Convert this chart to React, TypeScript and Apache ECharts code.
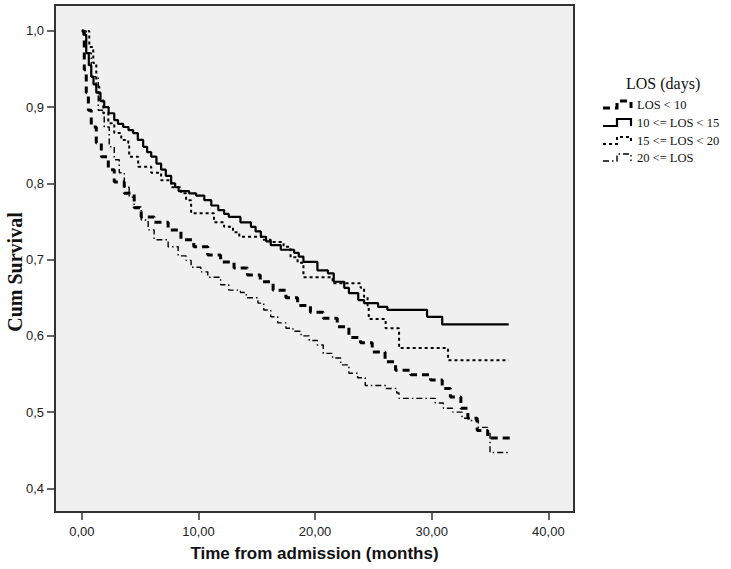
import React, { useEffect, useRef } from "react";
import * as echarts from "echarts";

// Kaplan-Meier step points: [time (months), cumulative survival]
const losLt10: [number, number][] = [
  [0, 1], [0.13, 1.0], [0.21, 0.949], [0.38, 0.919], [0.56, 0.896], [0.81, 0.874],
  [1.24, 0.853], [1.67, 0.835], [2.27, 0.818], [2.78, 0.802], [3.64, 0.787],
  [4.49, 0.768], [5.09, 0.756], [6.2, 0.749], [7.4, 0.739], [8.5, 0.726],
  [9.6, 0.717], [10.8, 0.706], [11.9, 0.697], [13.05, 0.689], [14.2, 0.68],
  [15.3, 0.671], [16.4, 0.66], [17.5, 0.65], [18.5, 0.64], [19.6, 0.631],
  [20.7, 0.623], [21.9, 0.612], [22.9, 0.598], [23.9, 0.591], [24.9, 0.579],
  [26.0, 0.566], [26.9, 0.555], [28.2, 0.549], [29.9, 0.542], [30.9, 0.531],
  [31.6, 0.52], [32.5, 0.505], [33.1, 0.492], [33.9, 0.476], [34.8, 0.466],
  [36.7, 0.466],
];

const los10to15: [number, number][] = [
  [0, 1], [0.15, 0.995], [0.38, 0.971], [0.6, 0.955], [0.81, 0.94], [1.0, 0.93],
  [1.24, 0.919], [1.6, 0.908], [1.92, 0.9], [2.3, 0.892], [2.78, 0.883],
  [3.1, 0.878], [3.55, 0.874], [4.0, 0.87], [4.4, 0.866], [4.8, 0.857],
  [5.26, 0.848], [5.6, 0.841], [5.95, 0.835], [6.4, 0.826], [6.8, 0.818],
  [7.2, 0.81], [7.66, 0.8], [8.0, 0.795], [8.3, 0.79], [9.2, 0.787], [9.8, 0.784],
  [10.5, 0.778], [11.1, 0.771], [11.7, 0.765], [12.2, 0.76], [12.6, 0.756],
  [13.6, 0.749], [14.5, 0.743], [14.9, 0.737], [15.35, 0.73], [15.8, 0.724],
  [16.2, 0.719], [17.06, 0.713], [18.2, 0.709], [18.6, 0.704], [19.0, 0.697],
  [20.2, 0.686], [21.1, 0.682], [21.6, 0.671], [22.5, 0.663], [22.9, 0.656],
  [23.7, 0.647], [24.2, 0.643], [25.4, 0.638], [26.2, 0.634], [29.6, 0.625],
  [30.9, 0.615], [36.6, 0.615],
];

const los15to20: [number, number][] = [
  [0, 1], [0.21, 1.0], [0.64, 0.979], [0.98, 0.958], [1.24, 0.927], [1.5, 0.909],
  [1.84, 0.892], [2.27, 0.879], [2.78, 0.866], [3.38, 0.857], [3.98, 0.853],
  [4.06, 0.835], [4.83, 0.822], [5.95, 0.814], [6.8, 0.804], [7.66, 0.795],
  [8.5, 0.787], [8.94, 0.778], [9.37, 0.761], [11.33, 0.749], [12.2, 0.743],
  [12.96, 0.736], [13.5, 0.73], [15.5, 0.726], [16.2, 0.723], [17.3, 0.717],
  [17.9, 0.703], [18.5, 0.696], [19.0, 0.677], [21.5, 0.669], [23.9, 0.663],
  [24.2, 0.651], [24.5, 0.64], [24.6, 0.622], [26.05, 0.61], [27.2, 0.584],
  [31.4, 0.568], [36.6, 0.568],
];

const los20plus: [number, number][] = [
  [0, 1], [0.21, 1.0], [0.38, 0.971], [0.81, 0.94], [1.41, 0.896], [1.92, 0.874],
  [2.35, 0.848], [2.78, 0.831], [3.21, 0.814], [3.64, 0.795], [4.06, 0.782],
  [4.49, 0.769], [5.09, 0.752], [5.69, 0.739], [6.2, 0.726], [7.4, 0.717],
  [8.26, 0.705], [8.94, 0.699], [9.37, 0.69], [10.2, 0.684], [10.8, 0.677],
  [11.9, 0.667], [12.6, 0.66], [13.6, 0.657], [14.1, 0.65], [15.1, 0.643],
  [15.6, 0.634], [16.2, 0.625], [16.8, 0.617], [17.5, 0.61], [18.1, 0.606],
  [18.8, 0.6], [19.5, 0.594], [20.2, 0.588], [20.7, 0.577], [21.5, 0.571],
  [22.2, 0.562], [22.9, 0.551], [23.65, 0.545], [24.3, 0.535], [26.05, 0.531],
  [27.0, 0.525], [27.2, 0.518], [30.3, 0.512], [31.0, 0.505], [31.8, 0.5],
  [32.6, 0.492], [33.3, 0.489], [34.0, 0.48], [34.8, 0.474], [35.0, 0.447],
  [36.6, 0.447],
];

const seriesNames = ["LOS < 10", "10 <= LOS < 15", "15 <= LOS < 20", "20 <= LOS"];
const xTickValues = [0, 10, 20, 30, 40];
const yTickValues = [0.4, 0.5, 0.6, 0.7, 0.8, 0.9, 1.0];
const legendTitle = "LOS (days)";
const xAxisTitle = "Time from admission (months)";
const yAxisTitle = "Cum Survival";

const seriesData = [losLt10, los10to15, los15to20, los20plus];
const lineStyles = [
  { width: 3, type: [7, 5] as number[] },
  { width: 2.2, type: "solid" as any },
  { width: 2, type: [3, 3] as number[] },
  { width: 1.4, type: [6, 3, 1.5, 3] as number[] },
];

export default function App() {
  const ref = useRef<HTMLDivElement>(null);

  useEffect(() => {
    if (!ref.current) return;
    const chart = echarts.init(ref.current, undefined, { renderer: "svg" });

    const legendRows = [105, 123, 141, 158];
    const legendGraphics: any[] = [
      {
        type: "text",
        left: 626,
        top: 75,
        style: {
          text: legendTitle,
          font: "16px 'Liberation Serif', serif",
          fill: "#111",
        },
      },
    ];
    legendRows.forEach((r, i) => {
      legendGraphics.push({
        type: "polyline",
        shape: {
          points: [
            [603, r + 3],
            [617, r + 3],
            [617, r - 4],
            [631, r - 4],
            [631, r + 3],
          ],
        },
        style: {
          stroke: "#000",
          fill: null,
          lineWidth: lineStyles[i].width,
          lineDash: Array.isArray(lineStyles[i].type) ? lineStyles[i].type : null,
        },
      });
      legendGraphics.push({
        type: "text",
        x: 637,
        y: r,
        style: {
          text: seriesNames[i],
          font: "12.5px 'Liberation Serif', serif",
          fill: "#111",
          textVerticalAlign: "middle",
          verticalAlign: "middle",
        },
      });
    });
    legendGraphics.push({
      type: "text",
      x: 15,
      y: 272,
      rotation: Math.PI / 2,
      style: {
        text: yAxisTitle,
        font: "bold 20px 'Liberation Serif', serif",
        fill: "#111",
        textAlign: "center",
        align: "center",
        textVerticalAlign: "middle",
        verticalAlign: "middle",
      },
    });

    const option: any = {
      animation: false,
      backgroundColor: "#ffffff",
      grid: {
        left: 55,
        right: 157,
        top: 5,
        bottom: 57,
        show: true,
        backgroundColor: "#f0f0f0",
        borderColor: "#333",
        borderWidth: 2,
      },
      xAxis: {
        type: "value",
        min: -2.3,
        max: 42.2,
        name: xAxisTitle,
        nameLocation: "middle",
        nameGap: 33,
        nameTextStyle: {
          fontFamily: "'Liberation Sans', Arial, sans-serif",
          fontWeight: "bold",
          fontSize: 17,
          color: "#111",
        },
        axisLine: { show: true, onZero: false, lineStyle: { color: "#333", width: 2 } },
        axisTick: {
          show: true,
          length: 8,
          customValues: xTickValues,
          lineStyle: { color: "#333", width: 1.5 },
        },
        axisLabel: {
          customValues: xTickValues,
          formatter: (v: number) => v.toFixed(2).replace(".", ","),
          fontFamily: "'Liberation Sans', Arial, sans-serif",
          fontSize: 13,
          color: "#222",
          margin: 13,
        },
        splitLine: { show: false },
      },
      yAxis: {
        type: "value",
        min: 0.369,
        max: 1.034,
        axisLine: { show: true, onZero: false, lineStyle: { color: "#333", width: 2 } },
        axisTick: {
          show: true,
          length: 8,
          customValues: yTickValues,
          lineStyle: { color: "#333", width: 1.5 },
        },
        axisLabel: {
          customValues: yTickValues,
          formatter: (v: number) => v.toFixed(1).replace(".", ","),
          fontFamily: "'Liberation Sans', Arial, sans-serif",
          fontSize: 13,
          color: "#222",
          margin: 11,
        },
        splitLine: { show: false },
      },
      graphic: legendGraphics,
      series: seriesData.map((d, i) => ({
        name: seriesNames[i],
        type: "line",
        step: "end",
        data: d,
        showSymbol: false,
        symbol: "none",
        lineStyle: {
          color: "#000",
          width: lineStyles[i].width,
          type: lineStyles[i].type,
        },
        z: 2 + i,
      })),
    };

    chart.setOption(option);
    return () => chart.dispose();
  }, []);

  return (
    <div
      ref={ref}
      style={{ position: "fixed", left: 0, top: 0, width: 731, height: 569 }}
    />
  );
}
